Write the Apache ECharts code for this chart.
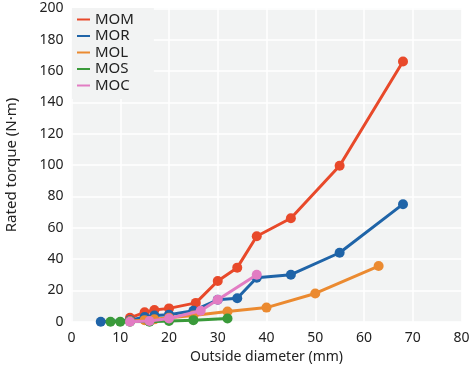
<!DOCTYPE html>
<html><head><meta charset="utf-8">
<script src="https://cdn.jsdelivr.net/npm/echarts@6/dist/echarts.min.js"></script>
<style>html,body{margin:0;padding:0;background:#fff}#c{width:470px;height:365px}</style>
</head><body><div id="c"></div>
<script>
const seriesNames = ['MOM','MOR','MOL','MOS','MOC'];
const colors = ['#e8492a','#1f64a8','#eb8a30','#3a9a3a','#e27cc3'];
const MOM = [[12,2.5],[15,6],[17,7.5],[20,8.5],[25.5,12],[30,26],[34,34.5],[38,54.5],[45,66],[55,99.5],[68,166]];
const MOR = [[6,0],[12,1],[15,3],[17,4],[20,4.5],[25,7],[30,14],[34,15],[38,28],[45,30],[55,44],[68,75]];
const MOL = [[12,0.5],[15,1],[17,1.5],[20,2.5],[25,4],[32,6.5],[40,9],[50,18],[63,35.5]];
const MOS = [[8,0],[10,0],[12,0],[16,0],[20,0.5],[25,1],[32,2]];
const MOC = [[12,0],[16,0.5],[20,2],[26.5,7],[30,14],[38,30]];
const allData = [MOM, MOR, MOL, MOS, MOC];
const xTicks = [0,10,20,30,40,50,60,70,80];
const yTicks = [0,20,40,60,80,100,120,140,160,180,200];

const font = '"Noto Sans", "Open Sans", sans-serif';
const chart = echarts.init(document.getElementById('c'), null, {renderer:'canvas'});
chart.setOption({
  animation:false,
  textStyle:{fontFamily:font},
  grid:{left:71.5, right:8.5, top:8.3, bottom:43.3, show:true, backgroundColor:'#f2f3f3', borderWidth:0,
        containLabel:false, outerBoundsMode:'none'},
  legend:{
    orient:'vertical', left:72, top:8, itemGap:1.5,
    padding:[4,20,6,5], backgroundColor:'#f2f3f3',
    itemWidth:13, itemHeight:2, icon:'rect',
    textStyle:{fontFamily:font, fontSize:15, lineHeight:15, color:'#222', padding:[0,0,0,0]},
    data: seriesNames
  },
  xAxis:{
    type:'value', min:xTicks[0], max:xTicks[xTicks.length-1], interval:10,
    name:'Outside diameter (mm)', nameLocation:'middle', nameGap:25,
    nameTextStyle:{fontFamily:font, fontSize:14, color:'#222'},
    axisLine:{show:false}, axisTick:{show:false},
    axisLabel:{fontFamily:font, fontSize:14, color:'#222', margin:9},
    splitLine:{show:true, lineStyle:{color:'#ffffff', width:1.5}}
  },
  yAxis:{
    type:'value', min:yTicks[0], max:yTicks[yTicks.length-1], interval:20,
    name:'Rated torque (N·m)', nameLocation:'middle', nameGap:52,
    nameTextStyle:{fontFamily:font, fontSize:15, color:'#222'},
    axisLine:{show:false}, axisTick:{show:false},
    axisLabel:{fontFamily:font, fontSize:14, color:'#222', margin:8},
    splitLine:{show:true, lineStyle:{color:'#ffffff', width:1.5}}
  },
  series: seriesNames.map((n,i)=>({
    name:n, type:'line', data:allData[i],
    symbol:'circle', symbolSize:10, showSymbol:true,
    lineStyle:{color:colors[i], width:3},
    itemStyle:{color:colors[i]},
    z: 2+i
  }))
});
</script></body></html>
